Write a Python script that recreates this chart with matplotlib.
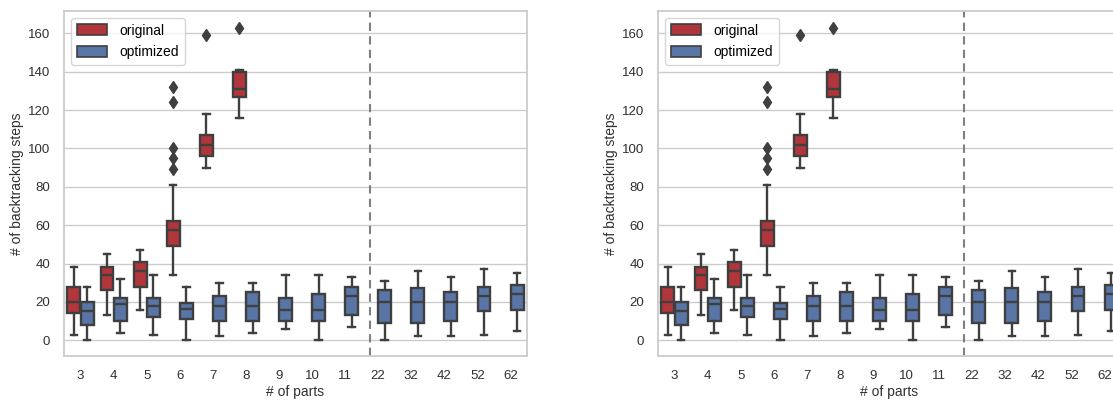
"""
Backtracking steps per number of parts, original vs optimized.
Two identical box-plot panels side by side (the right one runs off the page).
"""

import matplotlib
matplotlib.use("Agg")
import matplotlib.pyplot as plt
from matplotlib.patches import Patch

plt.rcParams["font.family"] = ["Liberation Sans", "DejaVu Sans"]

# ---------------------------------------------------------------------------
# Data (box statistics)
# ---------------------------------------------------------------------------
parts = ["3", "4", "5", "6", "7", "8", "9", "10", "11", "22", "32", "42", "52", "62"]

# original: only measured for 3..8 parts
orig_whislo = [3, 13, 16, 34, 90, 116]
orig_q1     = [14, 26, 28, 49, 96, 127]
orig_med    = [20, 34, 36, 57.5, 102, 131]
orig_q3     = [28, 38, 41, 62, 107, 140]
orig_whishi = [38, 45, 47, 81, 118, 141]
orig_fliers = [[], [], [], [132, 124, 100, 95, 89], [159], [163]]

# optimized: all part counts
opt_whislo = [0, 4, 3, 0, 2, 4, 6, 0, 7, 0, 2, 2, 3, 5]
opt_q1     = [8, 10, 12, 11, 10, 10, 10, 10, 13, 9, 9, 10, 15, 16]
opt_med    = [15, 19, 18, 16.5, 18, 18, 16, 16, 23, 20, 20, 20, 23, 24]
opt_q3     = [20, 22, 22, 19.5, 23, 25, 22, 24, 28, 26, 27, 25, 28, 29]
opt_whishi = [28, 32, 34, 28, 30, 30, 34, 34, 33, 31, 36, 33, 37, 35]

labels = ["original", "optimized"]

RED   = "#b0363b"
BLUE  = "#5875a6"
LINE  = "#3f3f3f"
GRID  = "#cccccc"
TEXT  = "#303030"


def make_stats(lo, q1, med, q3, hi, fliers=None):
    out = []
    for i in range(len(med)):
        out.append(dict(whislo=lo[i], q1=q1[i], med=med[i], q3=q3[i],
                        whishi=hi[i], fliers=fliers[i] if fliers else []))
    return out


orig_stats = make_stats(orig_whislo, orig_q1, orig_med, orig_q3, orig_whishi, orig_fliers)
opt_stats  = make_stats(opt_whislo, opt_q1, opt_med, opt_q3, opt_whishi)


def draw_panel(ax):
    lw = 1.7
    common = dict(widths=0.39, capwidths=0.2, patch_artist=True, manage_ticks=False,
                  whiskerprops=dict(color=LINE, lw=lw),
                  capprops=dict(color=LINE, lw=lw),
                  medianprops=dict(color=LINE, lw=lw),
                  flierprops=dict(marker="d", markerfacecolor=LINE,
                                  markeredgecolor=LINE, markersize=6))
    b1 = ax.bxp(orig_stats, positions=[i - 0.2 for i in range(len(orig_stats))],
                boxprops=dict(facecolor=RED, edgecolor=LINE, lw=lw), **common)
    b2 = ax.bxp(opt_stats, positions=[i + 0.2 for i in range(len(opt_stats))],
                boxprops=dict(facecolor=BLUE, edgecolor=LINE, lw=lw), **common)
    for b in (b1, b2):
        for art in b["boxes"] + b["whiskers"] + b["caps"] + b["medians"]:
            art.set_zorder(3)

    ax.set_xlim(-0.5, len(parts) - 0.5)
    ax.set_ylim(-8.2, 171.6)
    ax.set_xticks(range(len(parts)))
    ax.set_xticklabels(parts)
    ax.set_yticks(range(0, 161, 20))
    ax.tick_params(axis="both", length=0, labelsize=9.5, colors=TEXT)
    ax.tick_params(axis="x", pad=10)
    ax.tick_params(axis="y", pad=10)

    ax.yaxis.grid(True, color=GRID, lw=1.0, zorder=0)
    ax.xaxis.grid(False)
    ax.set_axisbelow(True)
    for sp in ax.spines.values():
        sp.set_color(GRID)
        sp.set_linewidth(1.3)

    ax.axvline(8.75, color="#808080", lw=1.5, ls=(0, (4, 2.5)), zorder=2)

    ax.set_xlabel("# of parts", fontsize=10, color=TEXT, labelpad=2)
    ax.set_ylabel("# of backtracking steps", fontsize=10, color=TEXT, labelpad=3)

    handles = [Patch(facecolor=RED, edgecolor=LINE, lw=1.2),
               Patch(facecolor=BLUE, edgecolor=LINE, lw=1.2)]
    leg = ax.legend(handles, labels, loc="upper left", fontsize=10,
                    handlelength=2.2, handleheight=0.8, labelspacing=0.55,
                    borderaxespad=0.5, handletextpad=0.9, borderpad=0.4,
                    frameon=True, fancybox=True)
    leg.get_frame().set_edgecolor(GRID)
    leg.get_frame().set_linewidth(1.0)


fig = plt.figure(figsize=(11.13, 4.01), dpi=100)
fig.patch.set_facecolor("white")

W, H = 1113.0, 401.0
left_ax  = fig.add_axes([64 / W, (H - 356) / H, 463 / W, 345 / H])
right_ax = fig.add_axes([658 / W, (H - 356) / H, 463 / W, 345 / H])

draw_panel(left_ax)
draw_panel(right_ax)

fig.savefig("out.png", dpi=100, facecolor="white")
